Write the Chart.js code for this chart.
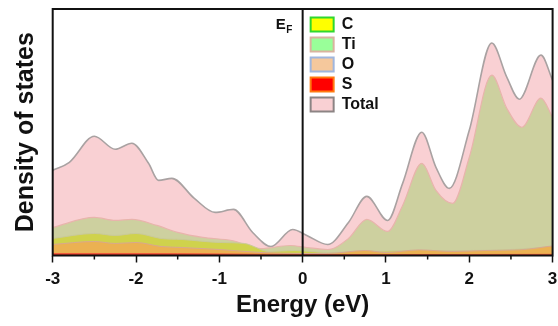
<!DOCTYPE html>
<html>
<head>
<meta charset="utf-8">
<script src="https://cdn.jsdelivr.net/npm/chart.js@4.4.0/dist/chart.umd.min.js"></script>
<style>
  body { margin: 0; background: #fff; }
  #wrap { width: 558px; height: 326px; }
</style>
</head>
<body>
<div id="wrap"><canvas id="dosChart"></canvas></div>
<script>
// Energy axis ticks (eV)
const xTicks = [-3, -2, -1, 0, 1, 2, 3];
const xMinorTicks = [-2.5, -1.5, -0.5, 0.5, 1.5, 2.5];

// Total DOS
const energyTotal = [-3.0, -2.8, -2.5, -2.25, -2.05, -1.85, -1.73, -1.57, -1.3, -1.05, -0.83, -0.6, -0.38, -0.12, 0.05, 0.3, 0.55, 0.77, 1.02, 1.2, 1.43, 1.6, 1.76, 2.0, 2.27, 2.45, 2.6, 2.86, 3.0];
const dosTotal = [4.25, 4.65, 5.95, 5.3, 5.6, 4.6, 3.75, 3.85, 2.85, 2.15, 2.3, 1.15, 0.45, 1.3, 1.0, 0.55, 1.65, 2.95, 1.75, 3.6, 6.15, 4.4, 3.35, 6.25, 10.6, 8.9, 7.8, 10.0, 8.75];

// Ti partial DOS
const energyTi = [-3.0, -2.5, -2.25, -2.05, -1.75, -1.5, -1.2, -0.85, -0.5, -0.15, 0.05, 0.3, 0.55, 0.77, 1.02, 1.2, 1.43, 1.6, 1.8, 2.0, 2.27, 2.45, 2.63, 2.86, 3.0];
const dosTi = [1.4, 1.9, 1.75, 1.8, 1.5, 1.15, 0.9, 0.75, 0.35, 0.5, 0.4, 0.3, 0.85, 1.8, 1.2, 2.5, 4.6, 3.25, 2.6, 4.9, 9.0, 7.35, 6.4, 7.85, 6.9];

// C partial DOS
const energyC = [-3.0, -2.5, -2.25, -2.0, -1.7, -1.45, -1.0, -0.7, -0.4, -0.1, 0.3, 0.8, 1.4, 2.0, 2.5, 3.0];
const dosC = [0.85, 1.1, 1.0, 1.1, 0.85, 0.8, 0.65, 0.6, 0.2, 0.25, 0.15, 0.2, 0.25, 0.25, 0.3, 0.45];

// O partial DOS
const energyO = [-3.0, -2.5, -2.25, -2.0, -1.7, -1.45, -1.0, -0.5, 0.0, 0.3, 0.75, 1.0, 1.4, 1.8, 2.2, 2.6, 3.0];
const dosO = [0.55, 0.7, 0.6, 0.65, 0.45, 0.4, 0.3, 0.15, 0.1, 0.1, 0.25, 0.15, 0.28, 0.2, 0.25, 0.28, 0.48];

// S partial DOS
const energyS = [-3.0, -2.0, -1.0, 0.0, 1.0, 2.0, 3.0];
const dosS = [0.1, 0.1, 0.08, 0.05, 0.05, 0.05, 0.06];

const yMax = 12.3;
const FONT = "'Liberation Sans', Arial, sans-serif";

function toPoints(xs, ys) {
    return xs.map((x, i) => ({ x: x, y: ys[i] }));
}

// Legend entries (swatch fill / swatch border)
const legendItems = [
    { label: 'C', fill: '#ffff00', border: '#2fd82f' },
    { label: 'Ti', fill: '#99ff99', border: '#d9b39f' },
    { label: 'O', fill: '#f5c89c', border: '#9fb6de' },
    { label: 'S', fill: '#ff0000', border: '#ff7a10' },
    { label: 'Total', fill: '#f9d0d3', border: '#8c8484' }
];

// Frame, minor ticks, E_F label and legend
const decorPlugin = {
    id: 'decor',
    afterDraw(chart) {
        const ctx = chart.ctx;
        const a = chart.chartArea;
        const xs = chart.scales.x;
        ctx.save();
        ctx.strokeStyle = '#111';
        ctx.lineWidth = 2;
        ctx.strokeRect(a.left, a.top, a.right - a.left, a.bottom - a.top);

        ctx.lineWidth = 1.5;
        xMinorTicks.forEach(v => {
            const px = xs.getPixelForValue(v);
            ctx.beginPath();
            ctx.moveTo(px, a.bottom);
            ctx.lineTo(px, a.bottom + 4);
            ctx.stroke();
        });

        const ef = xs.getPixelForValue(0);
        ctx.fillStyle = '#111';
        ctx.textBaseline = 'alphabetic';
        ctx.textAlign = 'left';
        ctx.font = 'bold 15px ' + FONT;
        ctx.fillText('E', ef - 27, a.top + 19.5);
        ctx.font = 'bold 10px ' + FONT;
        ctx.fillText('F', ef - 16.5, a.top + 24);

        ctx.font = 'bold 16px ' + FONT;
        ctx.textBaseline = 'middle';
        legendItems.forEach((item, i) => {
            const top = a.top + 8.5 + i * 20;
            ctx.fillStyle = item.fill;
            ctx.fillRect(ef + 8, top, 23, 14);
            ctx.strokeStyle = item.border;
            ctx.lineWidth = 2;
            ctx.strokeRect(ef + 8, top, 23, 14);
            ctx.fillStyle = '#111';
            ctx.fillText(item.label, ef + 39, top + 7.5);
        });
        ctx.restore();
    }
};

function areaSet(label, xs, ys, fill, line, width, order) {
    return {
        label: label,
        data: toPoints(xs, ys),
        backgroundColor: fill,
        borderColor: line,
        borderWidth: width,
        fill: 'origin',
        pointRadius: 0,
        cubicInterpolationMode: 'monotone',
        order: order
    };
}

const ctx = document.getElementById('dosChart').getContext('2d');
new Chart(ctx, {
    type: 'line',
    data: {
        datasets: [
            {
                label: 'EF',
                data: [{ x: 0, y: 0 }, { x: 0, y: yMax }],
                borderColor: '#111',
                borderWidth: 2,
                pointRadius: 0,
                fill: false,
                order: 0
            },
            areaSet('S', energyS, dosS, '#f03c28', '#f05a3c', 1, 1),
            areaSet('O', energyO, dosO, '#ebb152', '#d8a890', 1, 2),
            areaSet('C', energyC, dosC, '#cfd24c', '#c9c99a', 1, 3),
            areaSet('Ti', energyTi, dosTi, '#cdd09f', '#e8b4ac', 1.2, 4),
            areaSet('Total', energyTotal, dosTotal, '#f9d0d3', '#a9a2a2', 1.6, 5)
        ]
    },
    options: {
        responsive: true,
        maintainAspectRatio: false,
        animation: false,
        layout: { padding: { top: 9, right: 0, left: 0, bottom: 0 } },
        plugins: {
            legend: { display: false },
            tooltip: { enabled: false }
        },
        scales: {
            x: {
                type: 'linear',
                min: -3,
                max: 3,
                afterFit: s => {
                    s.height = 70.5;
                    s.paddingLeft = 0;
                    s.paddingRight = 5.4;
                },
                afterBuildTicks: s => { s.ticks = xTicks.map(v => ({ value: v })); },
                ticks: {
                    color: '#111',
                    padding: 7,
                    font: { family: FONT, size: 17, weight: 'bold' },
                    maxRotation: 0
                },
                grid: {
                    display: true,
                    drawOnChartArea: false,
                    tickLength: 7,
                    tickWidth: 1.5,
                    tickColor: '#111'
                },
                border: { display: false },
                title: {
                    display: true,
                    text: 'Energy (eV)',
                    color: '#111',
                    font: { family: FONT, size: 24, weight: 'bold' },
                    padding: { top: 0, bottom: 6 }
                }
            },
            y: {
                min: 0,
                max: yMax,
                afterFit: s => { s.width = 52.7; },
                ticks: { display: false },
                grid: { display: false },
                border: { display: false },
                title: {
                    display: true,
                    text: 'Density of states',
                    color: '#111',
                    font: { family: FONT, size: 25, weight: 'bold' },
                    padding: { top: 11, bottom: 0 }
                }
            }
        }
    },
    plugins: [decorPlugin]
});
</script>
</body>
</html>
